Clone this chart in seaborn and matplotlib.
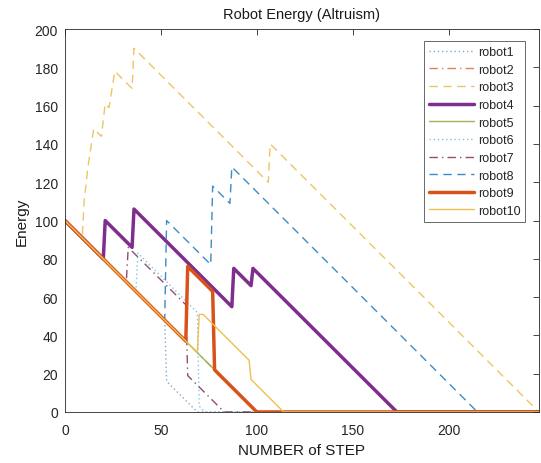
import matplotlib
matplotlib.use("Agg")
import matplotlib.pyplot as plt
import seaborn as sns

# Energy of each robot over the steps
robot1_step = [0, 52, 53, 69, 247]
robot1_energy = [100, 48, 16, 0, 0]
robot2_step = [0, 100, 247]
robot2_energy = [100, 0, 0]
robot3_step = [0, 9, 10, 12, 15, 19, 21, 23, 26, 35, 36, 106, 107, 247]
robot3_energy = [100, 91, 110, 128, 148, 144, 161, 159, 178, 169, 190, 120, 140, 0]
robot4_step = [0, 20, 21, 35, 36, 87, 88, 97, 98, 173, 247]
robot4_energy = [100, 80, 100, 86, 106, 55, 75, 66, 75, 0, 0]
robot5_step = [0, 100, 247]
robot5_energy = [100, 0, 0]
robot6_step = [0, 37, 38, 69, 70, 73, 247]
robot6_energy = [100, 63, 83, 52, 3, 0, 0]
robot7_step = [0, 32, 33, 63, 64, 83, 247]
robot7_energy = [100, 68, 86, 56, 19, 0, 0]
robot8_step = [0, 52, 53, 76, 77, 86, 87, 215, 247]
robot8_energy = [100, 48, 100, 77, 118, 109, 128, 0, 0]
robot9_step = [0, 63, 64, 77, 78, 100, 247]
robot9_energy = [100, 37, 76, 63, 22, 0, 0]
robot10_step = [0, 69, 70, 72, 96, 97, 114, 247]
robot10_energy = [100, 31, 51, 51, 27, 17, 0, 0]

robot_names = ["robot1", "robot2", "robot3", "robot4", "robot5",
               "robot6", "robot7", "robot8", "robot9", "robot10"]
steps = [robot1_step, robot2_step, robot3_step, robot4_step, robot5_step,
         robot6_step, robot7_step, robot8_step, robot9_step, robot10_step]
energies = [robot1_energy, robot2_energy, robot3_energy, robot4_energy, robot5_energy,
            robot6_energy, robot7_energy, robot8_energy, robot9_energy, robot10_energy]

# line look per robot (matlab-ish default order, a bit faded like the picture)
colors = ["#7fa9cc", "#d9825b", "#eec565", "#7e2f8e", "#9fb35a",
          "#7fc6e6", "#934a73", "#3d8cc4", "#d95319", "#edc050"]
styles = [(0, (1, 2)), (0, (6, 3, 1, 3)), (0, (6, 4)), "-", "-",
          (0, (1, 2)), (0, (6, 3, 1, 3)), (0, (6, 4)), "-", "-"]
widths = [1, 1, 1, 2.5, 1, 1, 1, 1, 2.5, 1]

sns.set_style("white")
plt.rcParams["font.family"] = ["Liberation Sans", "DejaVu Sans"]

fig = plt.figure(figsize=(5.41, 4.64), dpi=100)
ax = fig.add_axes([0.120, 0.110, 0.876, 0.825])

for name, x, y, c, ls, lw in zip(robot_names, steps, energies, colors, styles, widths):
    sns.lineplot(x=x, y=y, ax=ax, color=c, linestyle=ls, linewidth=lw,
                 label=name, estimator=None)

ax.set_xlim(0, 247)
ax.set_ylim(0, 200)
ax.set_xticks([0, 50, 100, 150, 200])
ax.set_yticks(range(0, 201, 20))
ax.tick_params(direction="in", top=True, right=True, length=4, width=0.6,
               labelsize=10, colors="#262626")
ax.tick_params(axis="x", pad=8)
ax.tick_params(axis="y", pad=5)
for sp in ax.spines.values():
    sp.set_visible(True)
    sp.set_color("#262626")
    sp.set_linewidth(0.6)

ax.set_title("Robot Energy (Altruism)", fontsize=10.5, color="#1a1a1a", pad=8)
ax.set_xlabel("NUMBER of STEP", fontsize=11, color="#1a1a1a", labelpad=4)
ax.set_ylabel("Energy", fontsize=11, color="#1a1a1a", labelpad=4)

leg = ax.legend(loc="upper right", fontsize=9, handlelength=3.6, frameon=True,
                fancybox=False, borderpad=0.4, labelspacing=0.45,
                handletextpad=0.3, bbox_to_anchor=(0.985, 0.985))
leg.get_frame().set_edgecolor("#262626")
leg.get_frame().set_linewidth(0.6)

fig.savefig("out.png", dpi=100)
